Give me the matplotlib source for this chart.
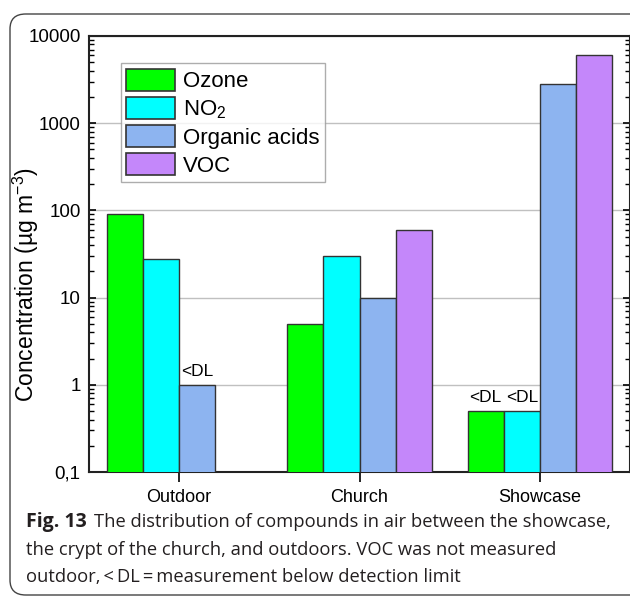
import matplotlib
matplotlib.use("Agg")
import matplotlib.pyplot as plt
import numpy as np
from matplotlib.patches import FancyBboxPatch
from matplotlib.ticker import LogLocator, FixedLocator, FixedFormatter, NullFormatter

categories = ["Outdoor", "Church", "Showcase"]
series_names = ["Ozone", "NO$_2$", "Organic acids", "VOC"]
ozone = [90, 5, 0.5]
no2 = [28, 30, 0.5]
organic_acids = [1, 10, 2800]
voc = [np.nan, 60, 6000]
below_dl = [(0, 2), (2, 0), (2, 1)]  # (category index, series index)
ytick_vals = [0.1, 1, 10, 100, 1000, 10000]
ytick_labels = ["0,1", "1", "10", "100", "1000", "10000"]
colors = ["#00FF00", "#00FFFF", "#8DB4F0", "#C487FA"]

series = [ozone, no2, organic_acids, voc]

plt.rcParams['font.family'] = ['Liberation Sans', 'DejaVu Sans']
plt.rcParams['mathtext.default'] = 'regular'

fig = plt.figure(figsize=(6.30, 5.97), dpi=100)
ax = fig.add_axes([89/630, 1-472/597, (630-89)/630, (472-36)/597])

x = np.arange(len(categories))
w = 0.2
for i, (vals, col, name) in enumerate(zip(series, colors, series_names)):
    ax.bar(x + (i - 1.5) * w, vals, width=w, color=col, edgecolor="#333333",
           linewidth=1.0, label=name, zorder=3)

for ci, si in below_dl:
    v = series[si][ci]
    ax.text(x[ci] + (si - 1.5) * w, v * 1.18, "<DL", ha="center", va="bottom",
            fontsize=12.5, zorder=4)

ax.set_yscale("log")
ax.set_ylim(0.1, 10000)
ax.set_xlim(-0.5, 2.5)
ax.yaxis.set_major_locator(FixedLocator(ytick_vals))
ax.yaxis.set_major_formatter(FixedFormatter(ytick_labels))
ax.yaxis.set_minor_locator(LogLocator(base=10, subs=np.arange(2, 10)))
ax.yaxis.set_minor_formatter(NullFormatter())
ax.tick_params(axis="y", which="major", direction="in", length=5, width=1.2,
               labelsize=13.5, right=True, pad=6)
ax.tick_params(axis="y", which="minor", direction="in", length=3.5, width=1.0,
               right=True)
ax.set_xticks(x)
ax.set_xticklabels(categories)
ax.tick_params(axis="x", which="major", direction="out", length=7, width=1.2,
               labelsize=13, pad=5)
ax.grid(axis="y", which="major", color="#c0c0c0", linewidth=1.0, zorder=0)
ax.set_axisbelow(True)
for s in ax.spines.values():
    s.set_linewidth(1.5)
    s.set_color("#222222")

ax.set_ylabel("Concentration (µg m$^{-3}$)", fontsize=16.5)
ax.yaxis.set_label_coords(-0.089, 0.43)

leg = ax.legend(loc="upper left", bbox_to_anchor=(0.059, 0.938), fontsize=16,
                frameon=True, fancybox=False, edgecolor="#999999",
                handlelength=2.2, handleheight=1.15, handletextpad=0.36,
                labelspacing=0.2, borderpad=0.25, borderaxespad=0)
leg.get_frame().set_linewidth(1.0)
for h in leg.legend_handles:
    h.set_edgecolor("#333333")
    h.set_linewidth(1.2)

# caption
cap_font = ['Open Sans', 'DejaVu Sans']
fig.text(26/630, 1-522/597, "Fig. 13", fontsize=14, fontweight="bold",
         family=cap_font, va="center", color="#231f20")
fig.text(94/630, 1-522/597,
         "The distribution of compounds in air between the showcase,",
         fontsize=13.2, family=cap_font, va="center", color="#231f20")
fig.text(26/630, 1-550/597,
         "the crypt of the church, and outdoors. VOC was not measured",
         fontsize=13.2, family=cap_font, va="center", color="#231f20")
fig.text(26/630, 1-577/597,
         "outdoor,\u2009<\u2009DL\u2009=\u2009measurement below detection limit",
         fontsize=13.2, family=cap_font, va="center", color="#231f20")

border = FancyBboxPatch((10/630, 2/597), 640/630, (597-14-2)/597,
                        boxstyle="round,pad=0,rounding_size=0.025",
                        transform=fig.transFigure, fill=False,
                        edgecolor="#444444", linewidth=1.0, clip_on=False)
fig.patches.append(border)

fig.savefig("out.png", dpi=100)
